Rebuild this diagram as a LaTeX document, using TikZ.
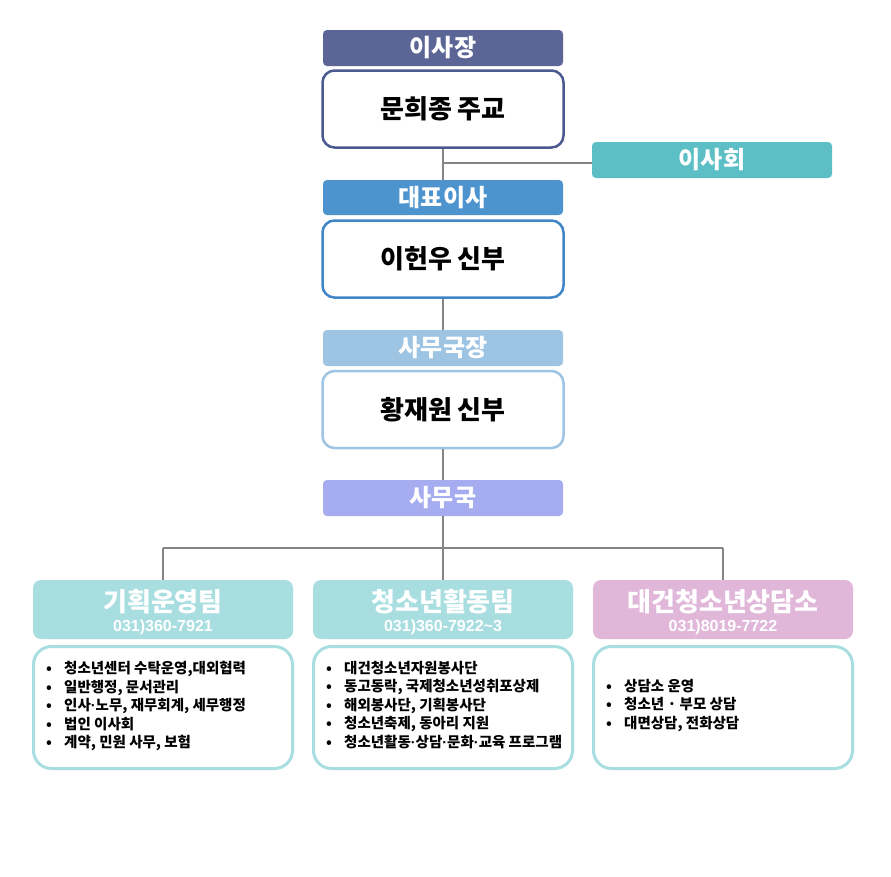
\documentclass[tikz,border=0pt]{standalone}
\usepackage{fontspec}
\setmainfont{Noto Sans CJK KR}
\newfontfamily\numfont{Liberation Sans}
\definecolor{cHeadA}{HTML}{5B6696}
\definecolor{cBoxA}{HTML}{4B5A8E}
\definecolor{cBoard}{HTML}{5CBFC5}
\definecolor{cHeadB}{HTML}{4D94CF}
\definecolor{cBoxB}{HTML}{3E86C8}
\definecolor{cHeadC}{HTML}{9EC4E4}
\definecolor{cHeadD}{HTML}{A5ADF0}
\definecolor{cTeal}{HTML}{A9DEE1}
\definecolor{cPink}{HTML}{E0B7D9}
\definecolor{cLine}{HTML}{858585}
\newcommand{\bul}{\makebox[18pt][l]{•}}
\newcommand{\mdot}{{\numfont\bfseries·}}
\begin{document}
\begin{tikzpicture}[x=1pt,y=1pt,
  hdr/.style={rectangle, rounded corners=4pt, minimum width=240pt, minimum height=36pt, inner sep=0pt, text=white, font=\fontsize{24}{26}\selectfont\bfseries},
  namebox/.style={rectangle, rounded corners=12pt, draw, line width=2.5pt, fill=white, minimum width=241pt, minimum height=77pt, inner sep=0pt, font=\fontsize{26}{28}\selectfont\bfseries},
  team/.style={rectangle, rounded corners=8pt, minimum width=260pt, minimum height=59pt, inner sep=0pt},
  teamtitle/.style={text=white, inner sep=0pt, font=\fontsize{26}{28}\selectfont\bfseries},
  phone/.style={text=white, inner sep=0pt, font=\numfont\fontsize{16}{18}\selectfont\bfseries},
  content/.style={rectangle, rounded corners=18pt, draw=cTeal, line width=3pt, fill=white, minimum width=259pt, minimum height=122pt, inner sep=0pt},
  list/.style={anchor=north west, align=left, inner sep=0pt, font=\fontsize{14.5}{18.5}\selectfont\bfseries},
  conn/.style={draw=cLine, line width=2pt}
]
\useasboundingbox (0,0) rectangle (891,-876);
\fill[white] (0,0) rectangle (891,-876);

\coordinate (j1) at (443,-163);
\coordinate (j2) at (443,-548);
\coordinate (jl) at (163,-548);
\coordinate (jr) at (723,-548);

\node[hdr, fill=cHeadA] (a1) at (443,-48) {이사장};
\node[namebox, draw=cBoxA] (b1) at (443,-109) {문희종 주교};
\node[hdr, fill=cBoard] (board) at (712,-160) {이사회};
\node[hdr, fill=cHeadB, minimum height=35pt] (a2) at (443,-197.5) {대표이사};
\node[namebox, draw=cBoxB] (b2) at (443,-259) {이헌우 신부};
\node[hdr, fill=cHeadC] (a3) at (443,-348) {사무국장};
\node[namebox, draw=cHeadC] (b3) at (443,-409.5) {황재원 신부};
\node[hdr, fill=cHeadD] (a4) at (443,-498) {사무국};

\node[team, fill=cTeal] (t1) at (163,-609.5) {};
\node[team, fill=cTeal] (t2) at (443,-609.5) {};
\node[team, fill=cPink] (t3) at (723,-609.5) {};

\node[teamtitle] (t1a) at (163,-602) {기획운영팀};
\node[phone] (t1b) at (163,-627) {031)360-7921};
\node[teamtitle] (t2a) at (443,-602) {청소년활동팀};
\node[phone] (t2b) at (443,-627) {031)360-7922\textasciitilde 3};
\node[teamtitle] (t3a) at (723,-602) {대건청소년상담소};
\node[phone] (t3b) at (723,-627) {031)8019-7722};

\node[content] (c1) at (163,-707.5) {};
\node[content] (c2) at (443,-707.5) {};
\node[content] (c3) at (723,-707.5) {};

\node[list] (l1) at (46,-661) {\bul 청소년센터 수탁운영,대외협력\\
\bul 일반행정, 문서관리\\
\bul 인사\mdot 노무, 재무회계, 세무행정\\
\bul 법인 이사회\\
\bul 계약, 민원 사무, 보험};
\node[list] (l2) at (326,-661) {\bul 대건청소년자원봉사단\\
\bul 동고동락, 국제청소년성취포상제\\
\bul 해외봉사단, 기획봉사단\\
\bul 청소년축제, 동아리 지원\\
\bul 청소년활동\mdot 상담\mdot 문화\mdot 교육 프로그램};
\node[list] (l3) at (606,-679) {\bul 상담소 운영\\
\bul 청소년 · 부모 상담\\
\bul 대면상담, 전화상담};

\draw[conn] (b1.south) -- (a2.north);
\draw[conn] (j1) -- (j1 -| board.west);
\draw[conn] (b2.south) -- (a3.north);
\draw[conn] (b3.south) -- (a4.north);
\draw[conn] (a4.south) -- (j2);
\draw[conn] (jl) -- (jr);
\draw[conn] (jl) -- (jl |- t1.north);
\draw[conn] (j2) -- (t2.north);
\draw[conn] (jr) -- (jr |- t3.north);
\end{tikzpicture}
\end{document}
